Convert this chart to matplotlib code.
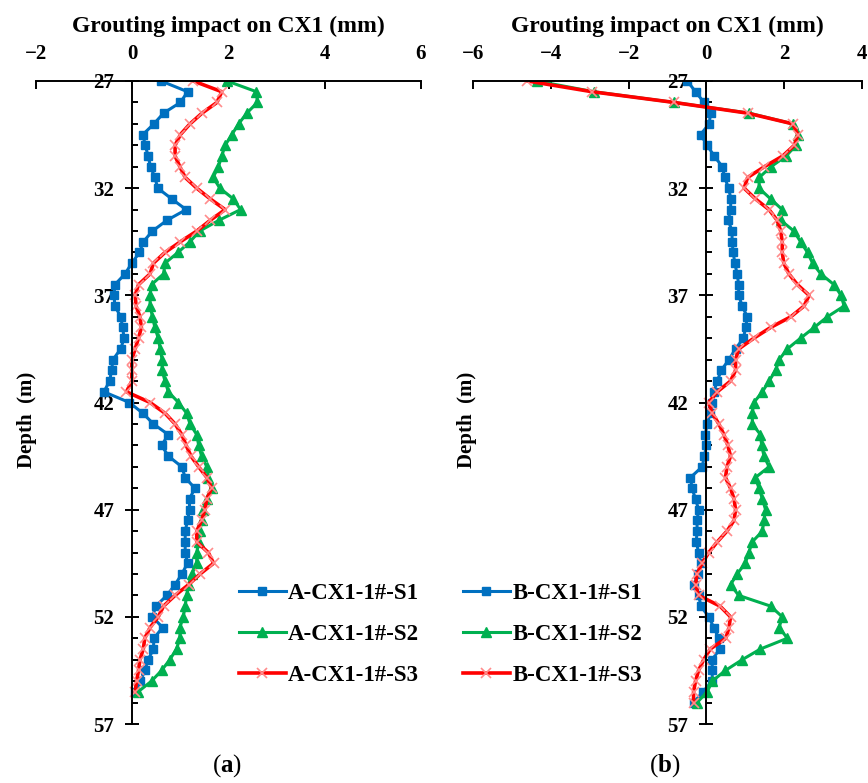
import numpy as np
import matplotlib
matplotlib.use("Agg")
import matplotlib.pyplot as plt
from matplotlib.ticker import MultipleLocator

plt.rcParams['font.family'] = ['Liberation Serif', 'DejaVu Serif']
plt.rcParams['font.weight'] = 'bold'
plt.rcParams['axes.labelweight'] = 'bold'
plt.rcParams['mathtext.fontset'] = 'custom'
plt.rcParams['mathtext.rm'] = 'Liberation Serif'
plt.rcParams['mathtext.bf'] = 'Liberation Serif:bold'

# depth grid (m), readings every 0.5 m
depth_a = np.arange(27, 55.75, 0.5)   # 27 .. 55.5
depth_b = np.arange(27, 56.25, 0.5)   # 27 .. 56
depth_ticks = [27, 32, 37, 42, 47, 52, 57]

# panel (a)
a_s1 = [0.60, 1.15, 1.00, 0.65, 0.45, 0.22, 0.27, 0.33, 0.38, 0.47,
        0.53, 0.82, 1.12, 0.72, 0.42, 0.23, 0.15, -0.01, -0.15, -0.36,
        -0.38, -0.36, -0.24, -0.20, -0.17, -0.24, -0.40, -0.43, -0.47, -0.59,
        -0.06, 0.22, 0.44, 0.75, 0.61, 0.75, 1.03, 1.10, 1.30, 1.19,
        1.19, 1.15, 1.10, 1.10, 1.10, 1.15, 1.03, 0.89, 0.72, 0.49,
        0.42, 0.63, 0.45, 0.44, 0.33, 0.26, 0.17, 0.06]
a_s2 = [1.97, 2.58, 2.60, 2.38, 2.21, 2.07, 1.93, 1.86, 1.79, 1.68,
        1.82, 2.10, 2.25, 1.80, 1.40, 1.20, 0.95, 0.68, 0.65, 0.40,
        0.37, 0.37, 0.42, 0.47, 0.54, 0.58, 0.62, 0.62, 0.68, 0.75,
        0.96, 1.13, 1.20, 1.34, 1.38, 1.44, 1.55, 1.58, 1.65, 1.55,
        1.48, 1.44, 1.41, 1.38, 1.34, 1.34, 1.24, 1.17, 1.13, 1.10,
        1.06, 0.99, 0.99, 0.92, 0.78, 0.61, 0.40, 0.12]
a_s3 = [1.27, 1.86, 1.76, 1.45, 1.20, 1.00, 0.89, 0.89, 0.99, 1.10,
        1.34, 1.62, 1.93, 1.62, 1.34, 1.00, 0.68, 0.44, 0.37, 0.13,
        0.06, 0.08, 0.16, 0.19, 0.13, 0.06, -0.01, -0.01, -0.01, -0.12,
        0.37, 0.68, 0.89, 1.03, 1.12, 1.22, 1.38, 1.55, 1.65, 1.55,
        1.51, 1.44, 1.34, 1.34, 1.58, 1.69, 1.41, 1.17, 0.89, 0.65,
        0.54, 0.37, 0.26, 0.23, 0.16, 0.13, 0.09, 0.06]

# panel (b)
b_s1 = [-0.49, -0.28, -0.06, 0.11, 0.07, -0.15, 0.02, 0.20, 0.41, 0.47,
        0.57, 0.63, 0.62, 0.56, 0.66, 0.66, 0.69, 0.73, 0.79, 0.83,
        0.83, 0.92, 1.05, 1.01, 0.95, 0.75, 0.58, 0.38, 0.28, 0.19,
        0.15, 0.10, 0.02, -0.03, 0.00, -0.05, -0.11, -0.41, -0.37, -0.28,
        -0.20, -0.24, -0.24, -0.26, -0.20, -0.15, -0.22, -0.31, -0.20, -0.14,
        0.06, 0.19, 0.32, 0.34, 0.15, 0.15, 0.15, -0.09, -0.33]
b_s2 = [-4.36, -2.90, -0.83, 1.10, 2.22, 2.35, 2.30, 2.05, 1.66, 1.36,
        1.35, 1.65, 1.95, 1.91, 2.25, 2.42, 2.60, 2.73, 2.94, 3.28,
        3.46, 3.54, 3.11, 2.77, 2.42, 2.08, 1.87, 1.78, 1.61, 1.44,
        1.22, 1.18, 1.18, 1.39, 1.42, 1.48, 1.61, 1.26, 1.35, 1.44,
        1.52, 1.48, 1.44, 1.18, 1.09, 1.00, 0.79, 0.62, 0.83, 1.65,
        1.95, 1.87, 2.08, 1.39, 0.92, 0.49, 0.15, 0.02, -0.24]
b_s3 = [-4.60, -2.94, -0.83, 1.06, 2.22, 2.35, 2.26, 1.96, 1.49, 1.06,
        0.97, 1.26, 1.61, 1.82, 1.91, 1.95, 1.95, 1.99, 2.12, 2.34,
        2.64, 2.51, 2.17, 1.65, 1.22, 0.83, 0.75, 0.75, 0.62, 0.28,
        0.06, 0.15, 0.32, 0.45, 0.55, 0.62, 0.53, 0.49, 0.62, 0.71,
        0.75, 0.71, 0.53, 0.28, 0.06, -0.11, -0.24, -0.28, -0.20, 0.35,
        0.62, 0.58, 0.50, 0.10, -0.07, -0.20, -0.28, -0.33, -0.33]

labels_a = ['A-CX1-1#-S1', 'A-CX1-1#-S2', 'A-CX1-1#-S3']
labels_b = ['B-CX1-1#-S1', 'B-CX1-1#-S2', 'B-CX1-1#-S3']

blue = '#0070C0'
green = '#00B050'
red = '#FF0000'
red_mk = '#FF8C8C'

W, H = 868, 783
fig = plt.figure(figsize=(W / 100, H / 100), dpi=100)
ax_a = fig.add_axes([36 / W, 59 / H, 385 / W, 643 / H])
ax_b = fig.add_axes([473 / W, 59 / H, 389 / W, 643 / H])


def style(ax, xmin, xmax):
    ax.set_xlim(xmin, xmax)
    ax.set_ylim(57, 27)
    ax.spines['left'].set_position(('data', 0))
    ax.spines['right'].set_visible(False)
    ax.spines['bottom'].set_visible(False)
    for s in ('left', 'top'):
        ax.spines[s].set_linewidth(1.4)
    ax.xaxis.tick_top()
    ax.xaxis.set_label_position('top')
    ax.xaxis.set_major_locator(MultipleLocator(2))
    ax.set_yticks(depth_ticks)
    ax.yaxis.set_minor_locator(MultipleLocator(1))
    ax.tick_params(axis='x', which='major', direction='in', length=6,
                   width=1.4, labelsize=15, pad=12)
    ax.tick_params(axis='y', which='major', direction='inout', length=10,
                   width=1.4, labelsize=15, pad=8)
    ax.tick_params(axis='y', which='minor', direction='in', length=4, width=1.4)
    ax.set_xlabel('Grouting impact on CX1 (mm)', fontsize=17, labelpad=9)


def draw(ax, depth, s1, s2, s3, labels):
    h1, = ax.plot(s1, depth, color=blue, lw=2.2, marker='s', ms=5.5,
                  label=labels[0])
    h2, = ax.plot(s2, depth, color=green, lw=2.2, marker='^', ms=6.5,
                  label=labels[1])
    h3, = ax.plot(s3, depth, color=red, lw=2.6, marker='x', ms=7,
                  mec=red_mk, mew=1.2, label=labels[2])
    return [h1, h2, h3]


style(ax_a, -2, 6)
style(ax_b, -6, 4)
ha = draw(ax_a, depth_a, a_s1, a_s2, a_s3, labels_a)
hb = draw(ax_b, depth_b, b_s1, b_s2, b_s3, labels_b)

leg_kw = dict(loc='upper left', frameon=False, fontsize=16.5,
              handlelength=2.05, handletextpad=0.1, labelspacing=0.88,
              borderpad=0, borderaxespad=0)
fig.legend(handles=ha, bbox_to_anchor=(239 / W, 1 - 583 / H), **leg_kw)
fig.legend(handles=hb, bbox_to_anchor=(463 / W, 1 - 583 / H), **leg_kw)

fig.text(27 / W, 1 - 420 / H, 'Depth  (m)', rotation=90, ha='center',
         va='center', fontsize=15)
fig.text(467 / W, 1 - 420 / H, 'Depth  (m)', rotation=90, ha='center',
         va='center', fontsize=15)

fig.text(227 / W, 1 - 766 / H, r'($\mathbf{a}$)', fontweight='normal',
         fontsize=18, ha='center', va='center')
fig.text(665 / W, 1 - 766 / H, r'($\mathbf{b}$)', fontweight='normal',
         fontsize=18, ha='center', va='center')

fig.savefig('out.png', dpi=100)
